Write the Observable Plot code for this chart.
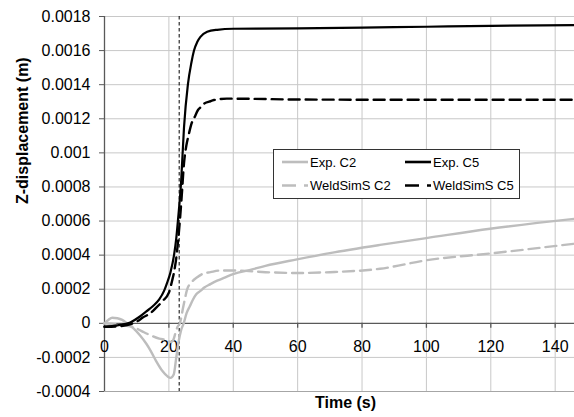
<!DOCTYPE html>
<html>
<head>
<meta charset="utf-8">
<script src="https://cdn.jsdelivr.net/npm/d3@7"></script>
<script src="https://cdn.jsdelivr.net/npm/@observablehq/plot@0.6"></script>
<style>
  html, body { margin: 0; padding: 0; background: #fff; }
  #wrap { position: relative; width: 574px; height: 417px; font-family: "Liberation Sans", Arial, sans-serif; }
  #legend { position: absolute; left: 273px; top: 149px; }
</style>
</head>
<body>
<div id="wrap"><div id="chart"></div><div id="legend"></div></div>
<script>
// ---- data ----
const xTicks = [0, 20, 40, 60, 80, 100, 120, 140];
const yTicks = [-0.0004, -0.0002, 0, 0.0002, 0.0004, 0.0006, 0.0008, 0.001, 0.0012, 0.0014, 0.0016, 0.0018];
const seriesNames = ["Exp. C2", "Exp. C5", "WeldSimS C2", "WeldSimS C5"];
const markerTime = 23.2; // vertical dashed reference line

// Exp. C2 (grey solid)
const tExpC2 = [0, 1.2, 2.4, 4, 5.5, 7, 9, 11, 13, 14.3, 16, 18, 19.5, 20.5, 21.5, 22.3, 23, 23.8, 24.6, 25.5, 26.5, 27.5, 28.5, 29.8, 31, 32.9, 35, 37.5, 40.2, 45, 50, 59.8, 70, 85.6, 100, 119.8, 146];
const vExpC2 = [0, 0.00002, 0.000033, 0.00003, 0.00002, 0, -0.00003, -0.00007, -0.00012, -0.00016, -0.00022, -0.00028, -0.00031, -0.00032, -0.0003, -0.0002, -0.00011, -0.00004, 0, 0.00006, 0.0001, 0.00014, 0.00017, 0.00019, 0.00021, 0.00023, 0.00025, 0.00027, 0.00029, 0.000312, 0.000337, 0.000375, 0.000412, 0.00046, 0.0005, 0.000555, 0.000613];

// Exp. C5 (black solid)
const tExpC5 = [0, 4, 8, 11, 13, 15, 17, 18.5, 19.5, 20.5, 21.6, 22.3, 22.8, 23.8, 24.7, 25.9, 27, 27.8, 28.8, 29.8, 31.9, 35, 40, 60, 80, 100, 120, 146];
const vExpC5 = [-0.00002, -0.000012, 0.000005, 0.00004, 0.00007, 0.0001, 0.00014, 0.00019, 0.00024, 0.0003, 0.0004, 0.0005, 0.0006, 0.00083, 0.00115, 0.0014, 0.00153, 0.0016, 0.00165, 0.00168, 0.00171, 0.001722, 0.001728, 0.00173, 0.001735, 0.00174, 0.001745, 0.00175];

// WeldSimS C2 (grey dashed)
const tSimC2 = [0, 3, 6, 9, 12, 14.3, 17, 19.5, 20.5, 21.3, 22, 22.7, 23.4, 24.5, 25.7, 27, 28.8, 30.5, 32.9, 36, 40, 50, 60, 70, 85.6, 100, 120, 146];
const vSimC2 = [0, -0.000005, -0.000012, -0.000022, -0.00005, -0.00007, -0.00009, -0.0001, -0.00011, -0.0001, -0.00006, -0.00002, 0, 0.0001, 0.0002, 0.00024, 0.00027, 0.00029, 0.0003, 0.00031, 0.00031, 0.0003, 0.000295, 0.0003, 0.00032, 0.00037, 0.00041, 0.000467];

// WeldSimS C5 (black dashed)
const tSimC5 = [0, 4, 7, 10, 12, 14.3, 16, 18, 20, 21, 21.6, 22.4, 23.4, 24, 24.7, 25.4, 26.2, 27, 28, 29, 30, 31, 32.5, 34, 38, 45, 60, 80, 100, 120, 146];
const vSimC5 = [-0.00002, -0.000018, -0.00001, 0.00001, 0.000035, 0.00006, 0.00009, 0.00013, 0.00018, 0.00025, 0.0003, 0.0004, 0.0006, 0.00075, 0.00094, 0.00104, 0.00111, 0.00117, 0.00121, 0.00125, 0.00127, 0.00129, 0.0013, 0.00131, 0.001318, 0.001317, 0.001313, 0.001312, 0.001312, 0.001312, 0.001312];

// ---- build tables ----
const toRows = (ts, vs) => ts.map((t, i) => ({t, v: vs[i]}));
const expC2 = toRows(tExpC2, vExpC2);
const expC5 = toRows(tExpC5, vExpC5);
const simC2 = toRows(tSimC2, vSimC2);
const simC5 = toRows(tSimC5, vSimC5);

const GREY = "#bdbdbd";
const GRID = "#c8c8c8";
const AXIS = "#595959";
const DASH = "11,6";
const FONT = "'Liberation Sans', Arial, sans-serif";
const fmt = d => String(+d.toFixed(4));

const chart = Plot.plot({
  width: 574,
  height: 417,
  marginLeft: 104,
  marginRight: 0,
  marginTop: 16,
  marginBottom: 26,
  style: {fontFamily: FONT, fontSize: "16px", color: "#000", background: "#fff", overflow: "visible"},
  x: {domain: [0, 146], axis: null},
  y: {domain: [-0.0004, 0.0018]},
  marks: [
    // grid
    Plot.ruleY(yTicks.filter(d => d !== 0 && d !== -0.0004), {stroke: GRID, strokeWidth: 1}),
    Plot.ruleX(xTicks.filter(d => d !== 0), {stroke: GRID, strokeWidth: 1}),
    Plot.ruleY([-0.0004], {stroke: "#a6a6a6", strokeWidth: 1}),
    // axes
    Plot.axisY(yTicks, {tickFormat: fmt, tickSize: 5, tickPadding: 9, fontSize: 16, stroke: AXIS, label: null}),
    Plot.ruleX([0], {stroke: AXIS, strokeWidth: 1.3}),
    Plot.ruleY([0], {stroke: AXIS, strokeWidth: 1.3}),
    Plot.ruleX(xTicks, {x: d => d, y1: 0, y2: 0, insetBottom: -5, stroke: AXIS, strokeWidth: 1.3}),
    Plot.text(xTicks, {x: d => d, y: 0, text: d => String(d), dy: 24, fontSize: 16, fill: "#000"}),
    // reference vertical dashed line
    Plot.ruleX([markerTime], {stroke: "#000", strokeWidth: 1, strokeDasharray: "3.5,2.5"}),
    // series
    Plot.line(expC2, {x: "t", y: "v", stroke: GREY, strokeWidth: 2.4, curve: "monotone-x"}),
    Plot.line(simC2, {x: "t", y: "v", stroke: GREY, strokeWidth: 2.4, strokeDasharray: DASH, curve: "monotone-x"}),
    Plot.line(simC5, {x: "t", y: "v", stroke: "#000", strokeWidth: 2.4, strokeDasharray: DASH, curve: "monotone-x"}),
    Plot.line(expC5, {x: "t", y: "v", stroke: "#000", strokeWidth: 2.2, curve: "monotone-x"}),
    // axis titles
    Plot.text(["Z-displacement (m)"], {frameAnchor: "left", rotate: -90, dx: -82, fontWeight: "bold", fontSize: 16, fill: "#000"}),
    Plot.text(["Time (s)"], {frameAnchor: "bottom", dx: 6, dy: 16, fontWeight: "bold", fontSize: 16, fill: "#000"})
  ]
});
document.getElementById("chart").appendChild(chart);

// ---- legend ----
const legendItems = [
  {name: seriesNames[0], color: GREY, dash: null, col: 0, row: 0},
  {name: seriesNames[1], color: "#000", dash: null, col: 1, row: 0},
  {name: seriesNames[2], color: GREY, dash: "14,8,4,20", col: 0, row: 1},
  {name: seriesNames[3], color: "#000", dash: "14,8,4,20", col: 1, row: 1}
];
const lg = d3.select("#legend").append("svg")
  .attr("width", 247).attr("height", 50)
  .style("display", "block");
lg.append("rect").attr("x", 0.5).attr("y", 0.5).attr("width", 246).attr("height", 49)
  .attr("fill", "#fff").attr("stroke", "#333").attr("stroke-width", 1);
const colX = [9, 132];
const rowY = [13, 36.5];
const items = lg.selectAll("g").data(legendItems).join("g")
  .attr("transform", d => `translate(${colX[d.col]},${rowY[d.row]})`);
items.append("line").attr("x1", 0).attr("x2", 26).attr("y1", 0).attr("y2", 0)
  .attr("stroke", d => d.color).attr("stroke-width", 2.6)
  .attr("stroke-dasharray", d => d.dash);
items.append("text").attr("x", 28).attr("y", 0).attr("dy", "0.35em")
  .attr("font-family", FONT).attr("font-size", 13).attr("fill", "#000")
  .text(d => d.name);
</script>
</body>
</html>
